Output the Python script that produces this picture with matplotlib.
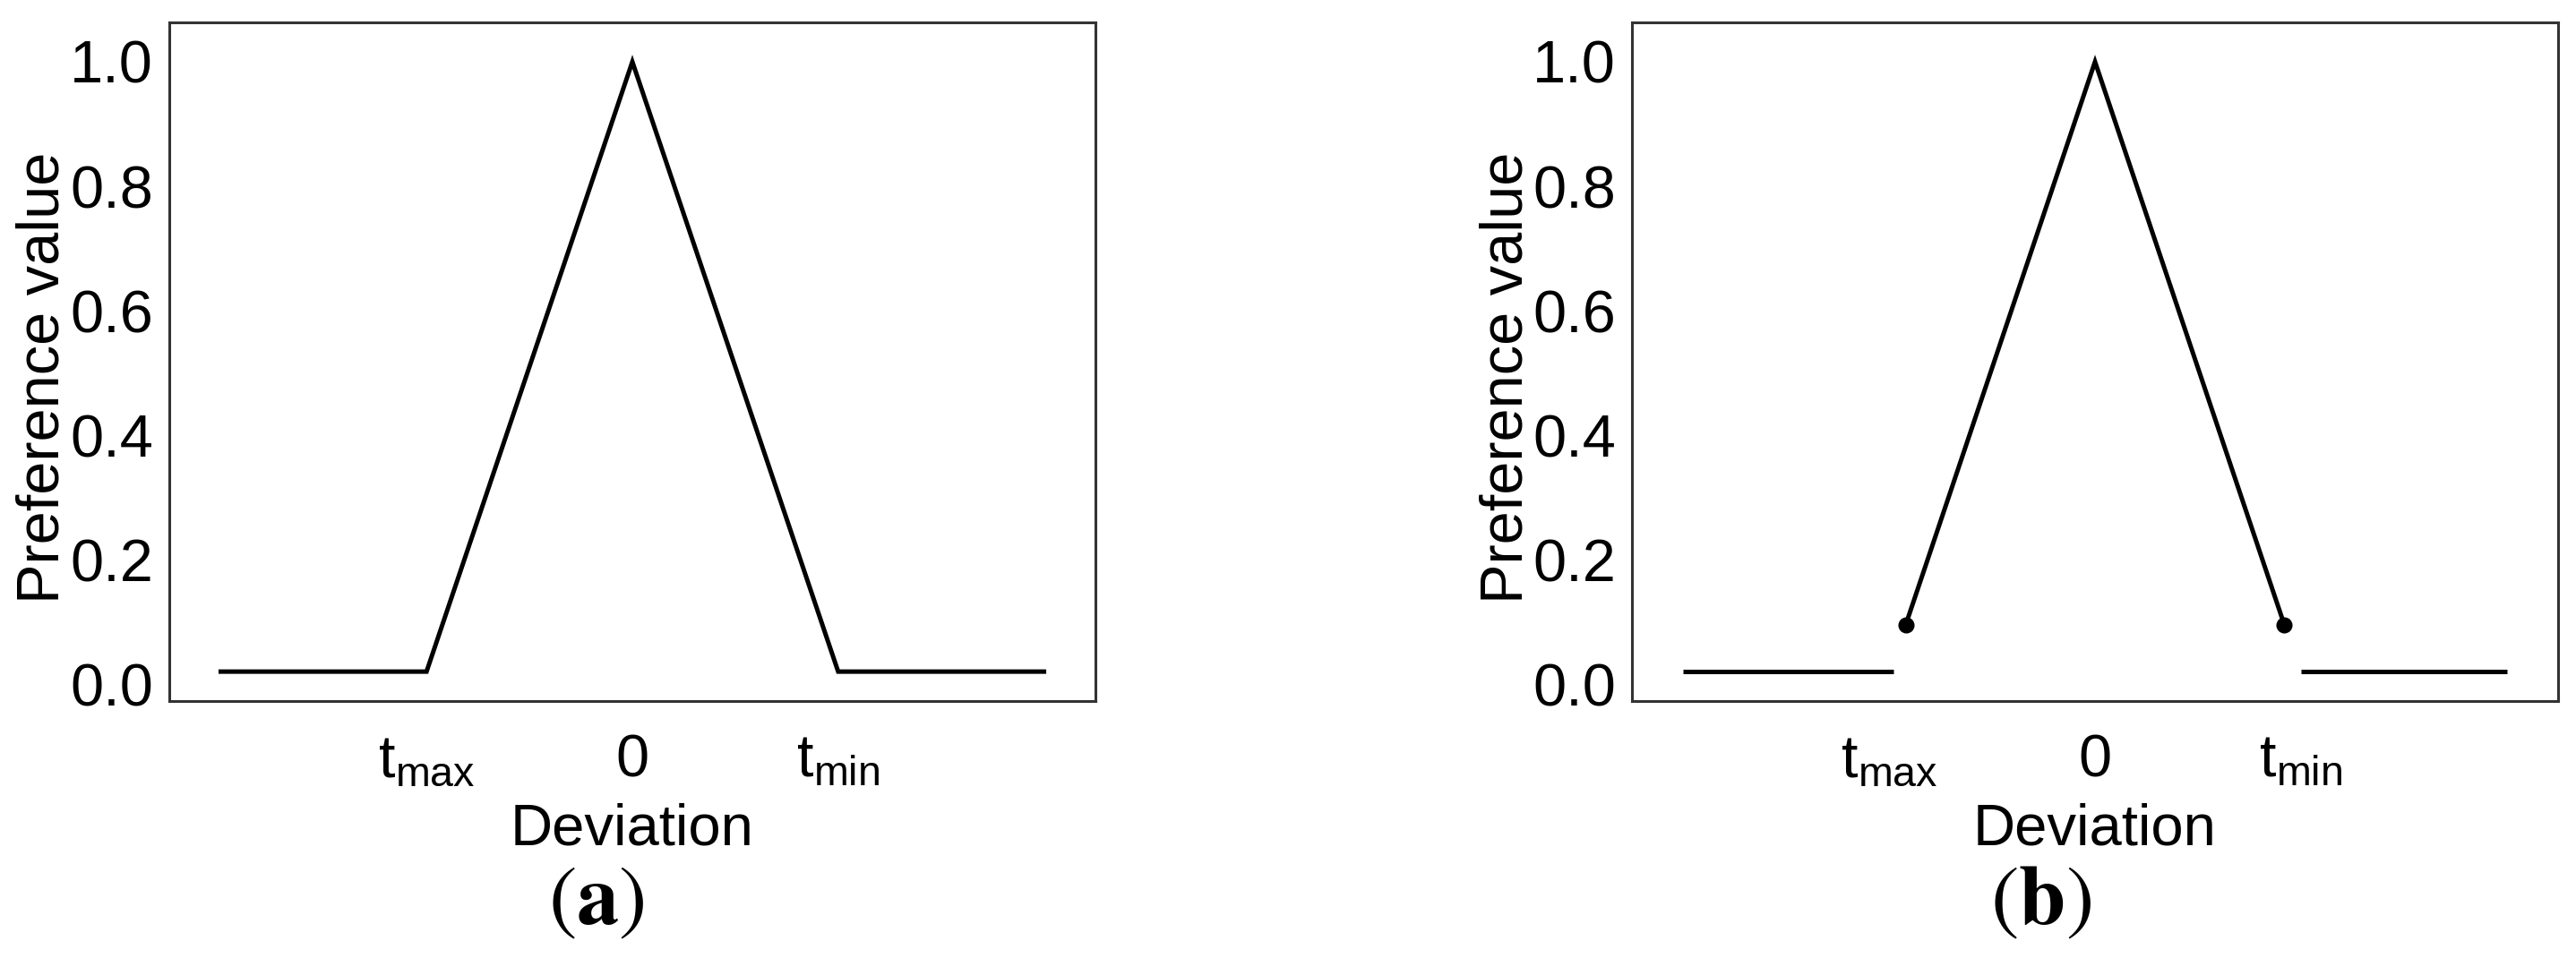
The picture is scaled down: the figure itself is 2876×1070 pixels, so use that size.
import matplotlib
matplotlib.use("Agg")
import matplotlib.pyplot as plt

plt.rcParams['font.family'] = ['Liberation Sans', 'DejaVu Sans']
plt.rcParams['mathtext.fontset'] = 'custom'
plt.rcParams['mathtext.rm'] = 'Liberation Sans'
plt.rcParams['mathtext.it'] = 'Liberation Sans'

# panel (a): continuous triangular preference
a_x = [-2, -1, 0, 1, 2]
a_y = [0.02, 0.02, 1.0, 0.02, 0.02]

# panel (b): triangle cut off near the thresholds
b_left_x = [-2, -0.98]
b_left_y = [0.02, 0.02]
b_tri_x = [-0.92, 0, 0.92]
b_tri_y = [0.095, 1.0, 0.095]
b_right_x = [1.0, 2.0]
b_right_y = [0.02, 0.02]
b_dot_x = [-0.92, 0.92]
b_dot_y = [0.095, 0.095]

x_ticks = [-1, 0, 1]
x_ticklabels = [r'$\mathrm{t}_{\mathrm{max}}$', '0', r'$\mathrm{t}_{\mathrm{min}}$']
y_ticks = [0.0, 0.2, 0.4, 0.6, 0.8, 1.0]

W, H = 2876, 1070
fig = plt.figure(figsize=(W / 100, H / 100), dpi=100)


def make_axes(left_px):
    ax = fig.add_axes([left_px / W, (H - 783) / H, 1034 / W, 758 / H])
    ax.set_xlim(-2.25, 2.25)
    ax.set_ylim(-0.0273, 1.0633)
    ax.set_xticks(x_ticks)
    ax.set_xticklabels(x_ticklabels)
    ax.set_yticks(y_ticks)
    ax.set_yticklabels([f'{v:.1f}' for v in y_ticks])
    ax.tick_params(axis='both', length=0, labelsize=48, colors='black')
    ax.tick_params(axis='x', pad=26)
    ax.tick_params(axis='y', pad=13)
    for s in ax.spines.values():
        s.set_color('#333333')
        s.set_linewidth(2.2)
    # axis titles placed by hand (pixel positions)
    ax.set_xlabel('Deviation', fontsize=47, va='baseline')
    ax.xaxis.set_label_coords(0.5, (783 - 943) / 758)
    ax.set_ylabel('Preference value', fontsize=48, va='baseline', ha='center')
    ax.yaxis.set_label_coords((66 - 189) / 1034, 0.476)
    return ax


ax1 = make_axes(189)
ax1.plot(a_x, a_y, color='black', lw=3.6, solid_joinstyle='miter')

ax2 = make_axes(1822)
ax2.plot(b_left_x, b_left_y, color='black', lw=3.6, solid_capstyle='butt')
ax2.plot(b_tri_x, b_tri_y, color='black', lw=3.6, solid_joinstyle='miter')
ax2.plot(b_right_x, b_right_y, color='black', lw=3.6, solid_capstyle='butt')
ax2.plot(b_dot_x, b_dot_y, 'o', color='black', markersize=12)

fig.text(666 / W, 1 - 1008 / H, r'$(\mathbf{a})$', fontsize=68, ha='center', va='center',
         math_fontfamily='stix')
fig.text(2278 / W, 1 - 1008 / H, r'$(\mathbf{b})$', fontsize=68, ha='center', va='center',
         math_fontfamily='stix')

fig.savefig('out.png', dpi=100, facecolor='white')
